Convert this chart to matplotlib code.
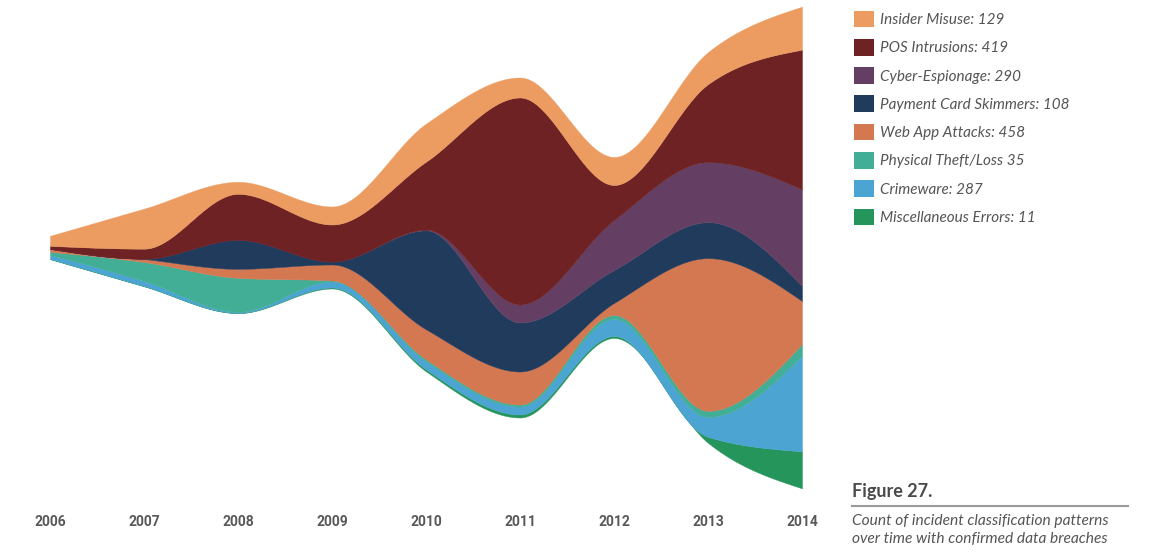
import numpy as np
import matplotlib
matplotlib.use("Agg")
import matplotlib.pyplot as plt
from matplotlib.patches import Patch
from matplotlib.lines import Line2D

# ---------------- data ----------------
years = [2006, 2007, 2008, 2009, 2010, 2011, 2012, 2013, 2014]
# stacking order: bottom -> top
series_names = ["Miscellaneous Errors", "Crimeware", "Physical Theft/Loss",
                "Web App Attacks", "Payment Card Skimmers", "Cyber-Espionage",
                "POS Intrusions", "Insider Misuse"]
misc_errors = [1, 1, 1, 3, 6, 9, 6, 18, 111]
crimeware = [12, 15, 3, 18, 24, 24, 51, 60, 287]
physical_theft = [9, 57, 102, 3, 6, 6, 12, 18, 35]
web_app = [9, 9, 27, 48, 90, 99, 36, 458, 129]
payment_card = [0, 1, 87, 9, 297, 147, 99, 108, 45]
cyber_espionage = [0, 0, 0, 0, 2, 54, 150, 180, 290]
pos_intrusions = [9, 30, 138, 111, 204, 621, 105, 234, 419]
insider_misuse = [30, 120, 36, 54, 114, 60, 84, 96, 129]

legend_labels = ["Insider Misuse: 129", "POS Intrusions: 419", "Cyber-Espionage: 290",
                 "Payment Card Skimmers: 108", "Web App Attacks: 458",
                 "Physical Theft/Loss 35", "Crimeware: 287", "Miscellaneous Errors: 11"]
tick_labels = [str(y) for y in years]

colors = ["#25955C", "#4BA4D1", "#43AE96", "#D47852", "#213B5D",
          "#643F63", "#6E2223", "#EC9C60"]

layers = [misc_errors, crimeware, physical_theft, web_app, payment_card,
          cyber_espionage, pos_intrusions, insider_misuse]


# ---------------- helpers ----------------
def monotone(x, y, xs):
    x = np.asarray(x, float); y = np.asarray(y, float)
    n = len(x)
    h = np.diff(x); d = np.diff(y) / h
    m = np.zeros(n)
    for i in range(1, n - 1):
        p = (d[i - 1] * h[i] + d[i] * h[i - 1]) / (h[i - 1] + h[i])
        m[i] = (np.sign(d[i - 1]) + np.sign(d[i])) * min(abs(d[i - 1]), abs(d[i]), 0.5 * abs(p))
    m[0] = (3 * d[0] - m[1]) / 2
    m[-1] = (3 * d[-1] - m[-2]) / 2
    idx = np.clip(np.searchsorted(x, xs, side="right") - 1, 0, n - 2)
    t = (xs - x[idx]) / h[idx]
    h00 = 2 * t**3 - 3 * t**2 + 1
    h10 = t**3 - 2 * t**2 + t
    h01 = -2 * t**3 + 3 * t**2
    h11 = t**3 - t**2
    return h00 * y[idx] + h10 * h[idx] * m[idx] + h01 * y[idx + 1] + h11 * h[idx] * m[idx + 1]


# ---------------- figure ----------------
W, H = 1169, 559
fig = plt.figure(figsize=(W / 100, H / 100), dpi=100)
fig.patch.set_facecolor("white")

ax_left, ax_right = 50, 802
ax_top, ax_bot = 0, 500
ax = fig.add_axes([ax_left / W, 1 - ax_bot / H, (ax_right - ax_left) / W, (ax_bot - ax_top) / H])

data = np.array(layers, dtype=float)
total = data.sum(axis=0)
base = -total / 2.0  # silhouette offset
bounds = [base]
for row in data:
    bounds.append(bounds[-1] + row)

xs = np.linspace(years[0], years[-1], 1200)
smooth = [monotone(years, b, xs) for b in bounds]
for i, c in enumerate(colors):
    ax.fill_between(xs, smooth[i], smooth[i + 1], facecolor=c, edgecolor=c, linewidth=0.3)

center_px = 247.5
scale = 3.0  # counts per pixel
ax.set_xlim(years[0], years[-1])
ax.set_ylim(-(ax_bot - center_px) * scale, (center_px - ax_top) * scale)
for s in ax.spines.values():
    s.set_visible(False)
ax.set_yticks([])
ax.set_xticks(years)
ax.set_xticklabels(tick_labels, fontsize=10, color="#585858", fontweight="bold",
                   family="Roboto")
ax.tick_params(axis="x", length=0, pad=11)
ax.set_facecolor("none")

# ---------------- legend ----------------
handles = [Patch(facecolor=colors[::-1][i], edgecolor="none") for i in range(len(colors))]
leg = fig.legend(handles, legend_labels, loc="upper left",
                 bbox_to_anchor=(843 / W, 1 - 0 / H), frameon=False,
                 prop={"family": "Lato", "style": "italic", "size": 11},
                 handlelength=1.3, handleheight=1.3, handletextpad=0.45,
                 labelspacing=0.76, borderpad=0.2)
for t in leg.get_texts():
    t.set_color("#555555")

# ---------------- caption ----------------
fig.text(852 / W, 1 - 492 / H, "Figure 27.", fontsize=13, fontweight="bold",
         family="Lato", color="#4a4a4a", va="center", ha="left")
fig.add_artist(Line2D([852 / W, 1128 / W], [1 - 506 / H, 1 - 506 / H],
                      color="#9a9a9a", linewidth=1.5, transform=fig.transFigure))
fig.text(852 / W, 1 - 521 / H, "Count of incident classification patterns",
         fontsize=11.2, style="italic", family="Lato", color="#555555", va="center", ha="left")
fig.text(852 / W, 1 - 539 / H, "over time with confirmed data breaches",
         fontsize=11.2, style="italic", family="Lato", color="#555555", va="center", ha="left")

fig.savefig("out.png", dpi=100, facecolor="white")
